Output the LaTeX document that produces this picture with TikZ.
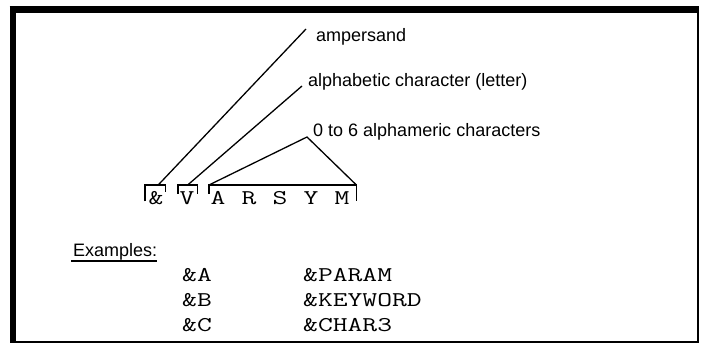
\documentclass[tikz,border=0pt]{standalone}
\usepackage{fontspec}
\setmainfont{Liberation Sans}
\usetikzlibrary{calc}
\newcommand\widetype[1]{\scalebox{1.37}[1]{#1}}
\begin{document}
\begin{tikzpicture}[x=1pt,y=-1pt,
  lbl/.style={font=\fontsize{18}{20}\selectfont, anchor=base west, inner sep=0pt},
  mono/.style={font=\ttfamily\fontsize{21}{24}\selectfont, anchor=base west, inner sep=0pt},
  ch/.style={font=\ttfamily\fontsize{21}{24}\selectfont, anchor=base, inner sep=0pt},
  conn/.style={line width=1.3pt},
  brk/.style={line width=1.3pt},
  grp/.style={inner sep=0pt, minimum height=16pt, anchor=north west},
]
\useasboundingbox (0,0) rectangle (703,344);
% frame
\draw[line width=7pt] (9.5,10) -- (698.5,10);
\draw[line width=6.5pt] (13,7) -- (13,342.5);
\draw[line width=1.5pt] (698,10) -- (698,342) -- (13,342);

% labels
\node[lbl] (lamp) at (316,42) {ampersand};
\node[lbl] (lalp) at (308,87) {alphabetic character (letter)};
\node[lbl] (lnum) at (313,137) {0 to 6 alphameric characters};
\coordinate (tamp) at (306,29);
\coordinate (talp) at (302,86);
\coordinate (tpk) at (307,137);

% characters
\node[ch] (c1) at (156,205) {\widetype{\&}};
\node[ch] (c2) at (187,205) {\widetype{V}};
\node[ch] (c3) at (218,205) {\widetype{A}};
\node[ch] (c4) at (249,205) {\widetype{R}};
\node[ch] (c5) at (280,205) {\widetype{S}};
\node[ch] (c6) at (311,205) {\widetype{Y}};
\node[ch] (c7) at (342,205) {\widetype{M}};

% bracket groups
\node[grp, minimum width=20pt] (gA) at (145,185) {};
\node[grp, minimum width=19pt] (gV) at (178,185) {};
\node[grp, minimum width=147pt] (gW) at (209,185) {};
\draw[brk] (gA.south west) -- (gA.north west) -- (gA.north east) -- ([yshift=-7pt]gA.north east);
\draw[brk] ([yshift=-9pt]gV.north west) -- (gV.north west) -- (gV.north east) -- ([yshift=-9pt]gV.north east);
\draw[brk] ([yshift=-9pt]gW.north west) -- (gW.north west) -- (gW.north east) -- (gW.south east);

% connectors
\draw[conn] (tamp) -- ([xshift=3pt]gA.north);
\draw[conn] (talp) -- (gV.north);
\draw[conn] (gW.north west) -- (tpk) -- (gW.north east);

% examples
\node[lbl] (ex) at (73,257) {Examples:};
\draw[line width=1.8pt] ([xshift=-2pt]ex.south west) -- (ex.south east);
\node[mono] (e1) at (182,281) {\widetype{\&A}};
\node[mono] (e2) at (182,306) {\widetype{\&B}};
\node[mono] (e3) at (182,331) {\widetype{\&C}};
\node[mono] (e4) at (303,281) {\widetype{\&PARAM}};
\node[mono] (e5) at (303,306) {\widetype{\&KEYWORD}};
\node[mono] (e6) at (303,331) {\widetype{\&CHAR3}};
\end{tikzpicture}
\end{document}
